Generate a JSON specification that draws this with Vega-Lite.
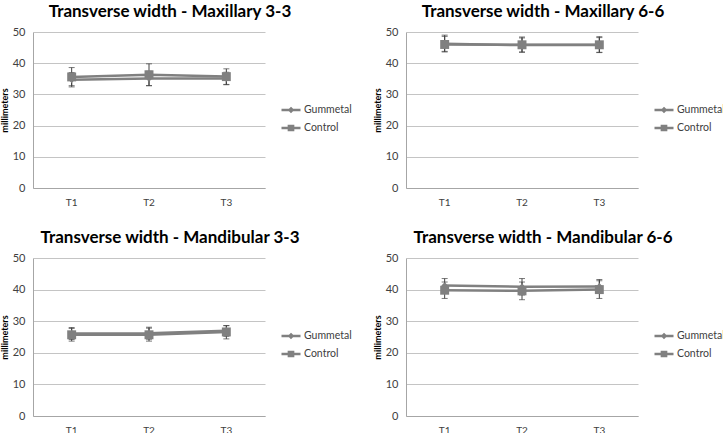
{
  "$schema": "https://vega.github.io/schema/vega-lite/v6.json",
  "padding": {"left": 0, "top": 3, "right": 0, "bottom": 0},
  "datasets": {
    "d": [
      {"panel": "Maxillary 3-3", "series": "Gummetal", "time": "T1", "mean": 34.7, "lo": 32.4, "hi": 37.0},
      {"panel": "Maxillary 3-3", "series": "Gummetal", "time": "T2", "mean": 35.1, "lo": 32.8, "hi": 37.4},
      {"panel": "Maxillary 3-3", "series": "Gummetal", "time": "T3", "mean": 35.1, "lo": 33.1, "hi": 37.1},
      {"panel": "Maxillary 3-3", "series": "Control", "time": "T1", "mean": 35.6, "lo": 32.8, "hi": 38.6},
      {"panel": "Maxillary 3-3", "series": "Control", "time": "T2", "mean": 36.3, "lo": 32.8, "hi": 39.8},
      {"panel": "Maxillary 3-3", "series": "Control", "time": "T3", "mean": 35.7, "lo": 33.2, "hi": 38.2},
      {"panel": "Maxillary 6-6", "series": "Gummetal", "time": "T1", "mean": 46.2, "lo": 43.8, "hi": 48.6},
      {"panel": "Maxillary 6-6", "series": "Gummetal", "time": "T2", "mean": 45.8, "lo": 43.5, "hi": 48.1},
      {"panel": "Maxillary 6-6", "series": "Gummetal", "time": "T3", "mean": 45.8, "lo": 43.4, "hi": 48.2},
      {"panel": "Maxillary 6-6", "series": "Control", "time": "T1", "mean": 46.0, "lo": 43.6, "hi": 49.0},
      {"panel": "Maxillary 6-6", "series": "Control", "time": "T2", "mean": 45.9, "lo": 43.6, "hi": 48.4},
      {"panel": "Maxillary 6-6", "series": "Control", "time": "T3", "mean": 45.9, "lo": 43.5, "hi": 48.5},
      {"panel": "Mandibular 3-3", "series": "Gummetal", "time": "T1", "mean": 26.1, "lo": 24.2, "hi": 28.0},
      {"panel": "Mandibular 3-3", "series": "Gummetal", "time": "T2", "mean": 26.2, "lo": 24.3, "hi": 28.1},
      {"panel": "Mandibular 3-3", "series": "Gummetal", "time": "T3", "mean": 27.0, "lo": 25.2, "hi": 28.6},
      {"panel": "Mandibular 3-3", "series": "Control", "time": "T1", "mean": 25.7, "lo": 23.7, "hi": 27.7},
      {"panel": "Mandibular 3-3", "series": "Control", "time": "T2", "mean": 25.7, "lo": 23.7, "hi": 27.8},
      {"panel": "Mandibular 3-3", "series": "Control", "time": "T3", "mean": 26.6, "lo": 24.4, "hi": 28.6},
      {"panel": "Mandibular 6-6", "series": "Gummetal", "time": "T1", "mean": 41.3, "lo": 39.2, "hi": 43.5},
      {"panel": "Mandibular 6-6", "series": "Gummetal", "time": "T2", "mean": 40.9, "lo": 38.3, "hi": 43.5},
      {"panel": "Mandibular 6-6", "series": "Gummetal", "time": "T3", "mean": 41.0, "lo": 38.8, "hi": 43.2},
      {"panel": "Mandibular 6-6", "series": "Control", "time": "T1", "mean": 39.8, "lo": 37.2, "hi": 42.4},
      {"panel": "Mandibular 6-6", "series": "Control", "time": "T2", "mean": 39.6, "lo": 36.8, "hi": 42.4},
      {"panel": "Mandibular 6-6", "series": "Control", "time": "T3", "mean": 40.0, "lo": 37.2, "hi": 42.8}
    ]
  },
  "columns": 2,
  "spacing": {"column": 21, "row": 22},
  "concat": [
    {
      "width": 232, "height": 156,
      "title": {"text": "Transverse width - Maxillary 3-3", "frame": "group", "dx": 21},
      "data": {"name": "d"},
      "transform": [{"filter": "datum.panel === 'Maxillary 3-3'"}],
      "encoding": {"x": {"field": "time", "type": "nominal", "title": null}},
      "layer": [
        {"mark": {"type": "errorbar", "ticks": {"size": 6}, "color": "#404040"},
         "encoding": {"y": {"field": "lo", "type": "quantitative", "title": "millimeters", "scale": {"domain": [0, 50]}}, "y2": {"field": "hi"}, "detail": {"field": "series"}}},
        {"mark": {"type": "line", "strokeWidth": 2.5, "color": "#808080"},
         "encoding": {"y": {"field": "mean", "type": "quantitative", "title": "millimeters"}, "detail": {"field": "series"}}},
        {"mark": {"type": "point", "filled": true, "opacity": 1, "color": "#808080", "size": 500},
         "encoding": {"y": {"field": "mean", "type": "quantitative", "title": "millimeters"},
           "shape": {"field": "series", "type": "nominal", "scale": {"domain": ["Gummetal", "Control"], "range": ["M0,-0.3L0.3,0L0,0.3L-0.3,0Z", "M-0.4,-0.4L0.4,-0.4L0.4,0.4L-0.4,0.4Z"]}, "legend": null}}},
        {"mark": {"type": "point", "filled": false, "fill": "#808080", "stroke": "#808080", "strokeWidth": 2.5, "opacity": 0, "size": 500},
         "encoding": {"y": {"field": "mean", "type": "quantitative", "title": "millimeters"},
           "shape": {"field": "series", "type": "nominal", "scale": {"domain": ["Gummetal", "Control"], "range": ["M-1,0L1,0M0,-0.16L0.16,0L0,0.16L-0.16,0Z", "M-1,0L1,0M-0.22,-0.22L0.22,-0.22L0.22,0.22L-0.22,0.22Z"]},
             "legend": {"orient": "none", "legendX": 247, "legendY": 67, "title": null, "symbolSize": 361, "symbolOpacity": 1, "symbolStrokeWidth": 2.5}}}}
      ],
      "resolve": {"scale": {"shape": "independent"}, "legend": {"shape": "independent"}}
    },
    {
      "width": 232, "height": 156,
      "title": {"text": "Transverse width - Maxillary 6-6", "frame": "group", "dx": 21},
      "data": {"name": "d"},
      "transform": [{"filter": "datum.panel === 'Maxillary 6-6'"}],
      "encoding": {"x": {"field": "time", "type": "nominal", "title": null}},
      "layer": [
        {"mark": {"type": "errorbar", "ticks": {"size": 6}, "color": "#404040"},
         "encoding": {"y": {"field": "lo", "type": "quantitative", "title": "millimeters", "scale": {"domain": [0, 50]}}, "y2": {"field": "hi"}, "detail": {"field": "series"}}},
        {"mark": {"type": "line", "strokeWidth": 2.5, "color": "#808080"},
         "encoding": {"y": {"field": "mean", "type": "quantitative", "title": "millimeters"}, "detail": {"field": "series"}}},
        {"mark": {"type": "point", "filled": true, "opacity": 1, "color": "#808080", "size": 500},
         "encoding": {"y": {"field": "mean", "type": "quantitative", "title": "millimeters"},
           "shape": {"field": "series", "type": "nominal", "scale": {"domain": ["Gummetal", "Control"], "range": ["M0,-0.3L0.3,0L0,0.3L-0.3,0Z", "M-0.4,-0.4L0.4,-0.4L0.4,0.4L-0.4,0.4Z"]}, "legend": null}}},
        {"mark": {"type": "point", "filled": false, "fill": "#808080", "stroke": "#808080", "strokeWidth": 2.5, "opacity": 0, "size": 500},
         "encoding": {"y": {"field": "mean", "type": "quantitative", "title": "millimeters"},
           "shape": {"field": "series", "type": "nominal", "scale": {"domain": ["Gummetal", "Control"], "range": ["M-1,0L1,0M0,-0.16L0.16,0L0,0.16L-0.16,0Z", "M-1,0L1,0M-0.22,-0.22L0.22,-0.22L0.22,0.22L-0.22,0.22Z"]},
             "legend": {"orient": "none", "legendX": 247, "legendY": 67, "title": null, "symbolSize": 361, "symbolOpacity": 1, "symbolStrokeWidth": 2.5}}}}
      ],
      "resolve": {"scale": {"shape": "independent"}, "legend": {"shape": "independent"}}
    },
    {
      "width": 232, "height": 158,
      "title": {"text": "Transverse width - Mandibular 3-3", "frame": "group", "dx": 21},
      "data": {"name": "d"},
      "transform": [{"filter": "datum.panel === 'Mandibular 3-3'"}],
      "encoding": {"x": {"field": "time", "type": "nominal", "title": null}},
      "layer": [
        {"mark": {"type": "errorbar", "ticks": {"size": 6}, "color": "#404040"},
         "encoding": {"y": {"field": "lo", "type": "quantitative", "title": "millimeters", "scale": {"domain": [0, 50]}}, "y2": {"field": "hi"}, "detail": {"field": "series"}}},
        {"mark": {"type": "line", "strokeWidth": 2.5, "color": "#808080"},
         "encoding": {"y": {"field": "mean", "type": "quantitative", "title": "millimeters"}, "detail": {"field": "series"}}},
        {"mark": {"type": "point", "filled": true, "opacity": 1, "color": "#808080", "size": 500},
         "encoding": {"y": {"field": "mean", "type": "quantitative", "title": "millimeters"},
           "shape": {"field": "series", "type": "nominal", "scale": {"domain": ["Gummetal", "Control"], "range": ["M0,-0.3L0.3,0L0,0.3L-0.3,0Z", "M-0.4,-0.4L0.4,-0.4L0.4,0.4L-0.4,0.4Z"]}, "legend": null}}},
        {"mark": {"type": "point", "filled": false, "fill": "#808080", "stroke": "#808080", "strokeWidth": 2.5, "opacity": 0, "size": 500},
         "encoding": {"y": {"field": "mean", "type": "quantitative", "title": "millimeters"},
           "shape": {"field": "series", "type": "nominal", "scale": {"domain": ["Gummetal", "Control"], "range": ["M-1,0L1,0M0,-0.16L0.16,0L0,0.16L-0.16,0Z", "M-1,0L1,0M-0.22,-0.22L0.22,-0.22L0.22,0.22L-0.22,0.22Z"]},
             "legend": {"orient": "none", "legendX": 247, "legendY": 67, "title": null, "symbolSize": 361, "symbolOpacity": 1, "symbolStrokeWidth": 2.5}}}}
      ],
      "resolve": {"scale": {"shape": "independent"}, "legend": {"shape": "independent"}}
    },
    {
      "width": 232, "height": 158,
      "title": {"text": "Transverse width - Mandibular 6-6", "frame": "group", "dx": 21},
      "data": {"name": "d"},
      "transform": [{"filter": "datum.panel === 'Mandibular 6-6'"}],
      "encoding": {"x": {"field": "time", "type": "nominal", "title": null}},
      "layer": [
        {"mark": {"type": "errorbar", "ticks": {"size": 6}, "color": "#404040"},
         "encoding": {"y": {"field": "lo", "type": "quantitative", "title": "millimeters", "scale": {"domain": [0, 50]}}, "y2": {"field": "hi"}, "detail": {"field": "series"}}},
        {"mark": {"type": "line", "strokeWidth": 2.5, "color": "#808080"},
         "encoding": {"y": {"field": "mean", "type": "quantitative", "title": "millimeters"}, "detail": {"field": "series"}}},
        {"mark": {"type": "point", "filled": true, "opacity": 1, "color": "#808080", "size": 500},
         "encoding": {"y": {"field": "mean", "type": "quantitative", "title": "millimeters"},
           "shape": {"field": "series", "type": "nominal", "scale": {"domain": ["Gummetal", "Control"], "range": ["M0,-0.3L0.3,0L0,0.3L-0.3,0Z", "M-0.4,-0.4L0.4,-0.4L0.4,0.4L-0.4,0.4Z"]}, "legend": null}}},
        {"mark": {"type": "point", "filled": false, "fill": "#808080", "stroke": "#808080", "strokeWidth": 2.5, "opacity": 0, "size": 500},
         "encoding": {"y": {"field": "mean", "type": "quantitative", "title": "millimeters"},
           "shape": {"field": "series", "type": "nominal", "scale": {"domain": ["Gummetal", "Control"], "range": ["M-1,0L1,0M0,-0.16L0.16,0L0,0.16L-0.16,0Z", "M-1,0L1,0M-0.22,-0.22L0.22,-0.22L0.22,0.22L-0.22,0.22Z"]},
             "legend": {"orient": "none", "legendX": 247, "legendY": 67, "title": null, "symbolSize": 361, "symbolOpacity": 1, "symbolStrokeWidth": 2.5}}}}
      ],
      "resolve": {"scale": {"shape": "independent"}, "legend": {"shape": "independent"}}
    }
  ],
  "resolve": {"scale": {"shape": "independent"}, "legend": {"shape": "independent"}},
  "config": {
    "font": "Lato",
    "view": {"stroke": null},
    "title": {"fontSize": 17, "fontWeight": "bold", "color": "#000000", "offset": 5, "font": "Lato"},
    "axis": {"labelFont": "Lato", "labelFontSize": 10, "labelColor": "#404040", "gridColor": "#c4c4c4", "domainColor": "#a6a6a6", "ticks": false, "labelPadding": 8, "titleFont": "Lato", "titleFontSize": 9, "titleFontWeight": "bold", "titleColor": "#000000"},
    "axisX": {"grid": false, "labelAngle": 0, "labelPadding": 9},
    "axisY": {"values": [0, 10, 20, 30, 40, 50], "titlePadding": 3, "labelFontSize": 11, "domain": true},
    "legend": {"labelFont": "Lato", "labelFontSize": 10.5, "labelColor": "#404040", "rowPadding": 0, "labelOffset": 2}
  }
}
